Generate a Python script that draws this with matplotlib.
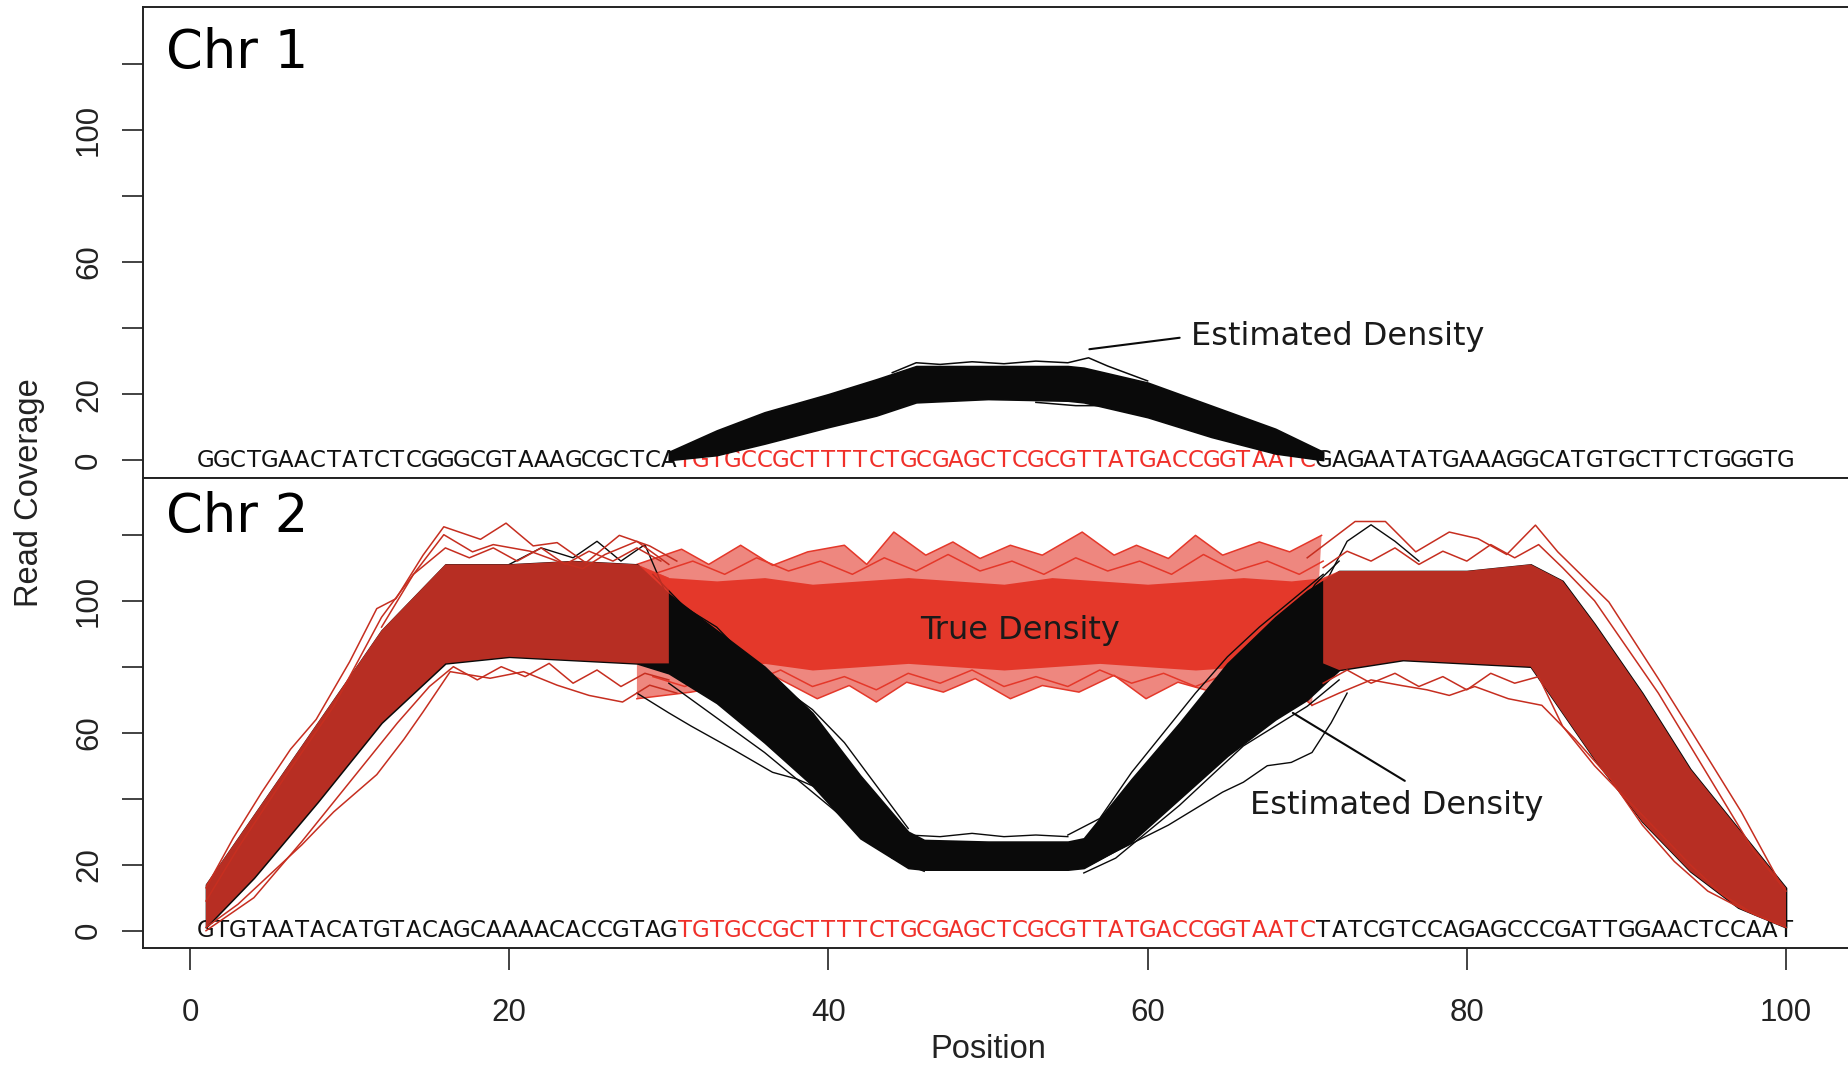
import matplotlib.pyplot as plt
import numpy as np

plt.rcParams['font.family'] = ['Liberation Sans', 'DejaVu Sans']

RED = '#e4382a'
DARK_RED = '#c62e20'
SEQ_RED = '#f0302a'
INK = '#0a0a0a'

# bases under the plots, one per position 1..100
repeat_seq = 'TGTGCCGCTTTTCTGCGAGCTCGCGTTATGACCGGTAATC'
chr1_left = 'GGCTGAACTATCTCGGGCGTAAAGCGCTCA'
chr1_right = 'GAGAATATGAAAGGCATGTGCTTCTGGGTG'
chr2_left = 'GTGTAATACATGTACAGCAAAACACCGTAG'
chr2_right = 'TATCGTCCAGAGCCCGATTGGAACTCCAAT'

# Chr 1: estimated density bundle (core band) and a few stray curves
est1_x = [30, 33, 36, 40, 43, 45.5, 50, 55, 56, 60, 64, 68, 71]
est1_lo = [0, 1.5, 5, 10, 13.5, 17.5, 18.5, 18, 17.5, 13, 7, 2, 0]
est1_hi = [2.5, 9, 14.5, 20, 24.5, 28.5, 28.5, 28.5, 28, 23.5, 16.5, 9.5, 2.5]
est1_top_x = [44, 45.5, 47, 49, 51, 53, 55, 56.3, 57.5, 60]
est1_top_y = [26.5, 29.5, 29, 29.8, 29.2, 30, 29.5, 31, 28.5, 24]
est1_low_x = [53, 55.5, 57, 59, 61, 63, 65]
est1_low_y = [17.5, 16.5, 16.5, 14.5, 12, 9.5, 6.5]

# Chr 2: estimated density (black) core band
est2_x = [1, 4, 8, 12, 16, 20, 24, 28, 30, 33, 36, 39, 42, 45, 46, 50, 55, 56,
          59, 62, 65, 68, 70, 72, 76, 80, 84, 86, 88, 91, 94, 97, 100]
est2_lo = [1, 16, 39, 63, 81, 83, 82, 81, 78, 69, 57, 44, 28, 19, 18.5, 18.5, 18.5, 19,
           27, 40, 53, 64, 70, 79, 82, 81, 80, 66, 52, 33, 18, 7, 1]
est2_hi = [14, 35, 63, 91, 111, 111, 112, 111, 102, 91, 80, 66, 47, 30, 27.5, 27, 27, 28,
           46, 63, 81, 95, 103, 109, 109, 109, 111, 106, 93, 72, 49, 31, 13]

# Chr 2: true density (red) core band
true2_x = [1, 4, 8, 12, 16, 20, 24, 28, 30, 33, 36, 39, 42, 45, 48, 51, 54, 57,
           60, 63, 66, 69, 71, 72, 76, 80, 84, 86, 88, 91, 94, 97, 100]
true2_lo = [1, 16, 39, 63, 81, 83, 82, 81, 81, 80, 81, 79, 80, 81, 80, 79, 80, 81,
            80, 79, 80, 81, 81, 79, 82, 81, 80, 66, 52, 33, 18, 7, 1]
true2_hi = [14, 35, 63, 91, 111, 111, 112, 111, 107, 106, 107, 105, 106, 107, 106, 105, 107, 106,
            105, 106, 107, 106, 107, 109, 109, 109, 111, 106, 93, 72, 49, 31, 13]

# outer edges of the true density across the repeat
mid_top_x = [28, 30.8, 32.5, 34.5, 36.5, 38.7, 41, 42.4, 44.1, 46.1, 47.8, 49.5,
             51.4, 53.4, 55.9, 57.9, 59.3, 61.3, 63, 64.7, 67, 68.9, 70.9]
mid_top_y = [111, 115.6, 111, 116.8, 110.7, 114.8, 116.8, 111, 120.8, 113.8, 117.8, 112.8,
             116.8, 113.8, 120.8, 113.8, 116.8, 112.8, 119.8, 113.8, 117.8, 114.8, 119.8]
mid_top2_x = [29, 31.5, 33.5, 35.5, 37.5, 39.5, 41.5, 43.5, 45.5, 47.5, 49.5, 51.5,
              53.5, 55.5, 57.5, 59.5, 61.5, 63.5, 65.5, 67.5, 69.5, 71]
mid_top2_y = [108, 112, 108, 113, 109, 112, 108, 113, 109, 114, 109, 112,
              108, 113, 109, 112, 108, 114, 109, 112, 108, 112]
mid_bot_x = [28, 31.4, 33.6, 36.5, 39.3, 41.3, 43, 44.9, 47.2, 49.2, 51.4, 53.4,
             55.7, 57.9, 59.9, 61.9, 64.1, 66.1, 68.1, 70.3]
mid_bot_y = [70.3, 72.3, 74.3, 77.4, 70.3, 74.3, 69.3, 75.3, 72.3, 76.4, 70.3, 74.3,
             72.3, 77.4, 70.3, 75.3, 72.3, 76.4, 77.4, 68.3]
mid_bot2_x = [29, 31, 33, 35, 37, 39, 41, 43, 45, 47, 49, 51, 53, 55, 57, 59, 61, 63, 65, 67, 69, 71]
mid_bot2_y = [77, 74, 78, 75, 79, 74, 77, 73, 78, 75, 79, 74, 77, 74, 79, 75, 78, 74, 78, 75, 79, 76]

# stray red curves on the flanks
red_curves = [
    ([1, 2.7, 4.5, 6.3, 7.9, 10, 11.7, 12.9, 14.6, 15.9, 18.2, 19.8, 21.5, 23, 24.8, 26.9, 28.8, 30.5],
     [13, 28, 42, 55, 64, 81.5, 97.6, 100.6, 113.8, 122.4, 118.6, 123.5, 116.6, 117.6, 111.5, 119.8, 116.6, 112]),
    ([12, 14, 15.9, 17.7, 19, 21.3, 23, 24.6, 26, 28, 30],
     [92, 108, 120, 114.8, 117, 115, 112, 109.7, 114, 118, 111]),
    ([1, 3, 5, 7, 9, 11.7, 13.4, 14.6, 16.3, 18.8, 20.9, 23, 25, 27.1, 28.8, 30.5],
     [1, 8, 17, 26, 36, 47.3, 58, 66.3, 78.5, 76.5, 78.5, 74.4, 71.3, 69.3, 74.4, 72]),
    ([1, 3, 6, 9, 12, 14, 16, 17.5, 19, 20.5, 22, 23.5, 25, 26.5, 28, 29.5],
     [9, 25, 47, 68, 95, 108, 116, 113, 116, 112, 116, 111, 115, 112, 116, 112]),
    ([1, 4, 7, 10, 13, 15, 16.5, 18, 19.5, 21, 22.5, 24, 25.5, 27, 28.5, 30],
     [0, 10, 27, 45, 63, 74, 80, 76, 80, 77, 81, 75, 79, 74, 78, 76]),
    ([70, 73, 74.9, 76.8, 78.9, 80.7, 82.5, 84.3, 85.7, 88.9, 92, 94.1, 97.2, 99.7],
     [113, 124, 124, 114.8, 120.8, 118.8, 114, 122.9, 114.8, 99.6, 76.4, 60.2, 36, 13.8]),
    ([70.3, 72, 74, 75.9, 77.5, 78.9, 80.5, 82.6, 84.7, 86.8, 89, 91, 93, 95.1, 97.5, 99.5],
     [68.3, 72, 76, 74.3, 73, 71.3, 74, 70.3, 68.3, 58, 46, 32, 21, 12, 6, 2]),
    ([71, 72.5, 74, 75.5, 77, 78.5, 80, 81.5, 83, 84.5, 86, 88, 90, 92, 94, 96, 98, 100],
     [110, 115, 112, 116, 111, 115, 112, 117, 113, 117, 110, 100, 86, 72, 56, 40, 24, 12]),
    ([71, 72.5, 74, 75.5, 77, 78.5, 80, 81.5, 83, 84.5, 86, 88, 90, 92, 94, 96, 98, 100],
     [75, 79, 75, 78, 74, 77, 73, 78, 75, 77, 62, 50, 40, 30, 20, 11, 5, 1]),
]

# stray black curves
black_curves = [
    ([28, 30, 31.4, 34, 36.5, 38, 39.9, 41.5, 42.7, 44.4, 46],
     [72, 66, 62, 55, 48, 46, 42, 35, 29, 24, 21]),
    ([56, 58, 61.3, 63, 64.7, 66, 67.5, 69, 70.3, 71.5, 72.5],
     [19, 24, 32, 37, 42, 45, 50, 51, 54, 63, 72]),
    ([60, 62, 64.2, 66.4, 68.5, 70.5, 72],
     [45, 55, 62, 75, 90, 105, 112]),
    ([20, 22, 24, 25.5, 27, 28.5, 30],
     [111, 116, 113, 118, 112, 117, 100]),
    ([71, 72.5, 74, 75.5, 77],
     [104, 118, 123, 118, 112]),
    ([29, 31, 33, 35, 37, 39, 41, 43, 45],
     [108, 98, 92, 82, 74, 67, 57, 44, 31]),
    ([30, 32, 34, 36, 38, 40, 42, 44, 46],
     [75, 68, 61, 54, 46, 38, 30, 22, 18]),
    ([55, 57, 59, 61, 63, 65, 67, 69, 71],
     [29, 34, 48, 60, 72, 83, 92, 100, 108]),
    ([56, 58, 60, 62, 64, 66, 68, 70, 72],
     [17.5, 22, 30, 38, 47, 56, 62, 68, 76]),
    ([45, 47, 49, 51, 53, 55],
     [29, 28.5, 29.5, 28.5, 29, 28.5]),
]


def draw_seq(ax, left, right):
    bases = left + repeat_seq + right
    for i, b in enumerate(bases):
        col = SEQ_RED if len(left) <= i < len(left) + len(repeat_seq) else '#111111'
        ax.text(i + 1, 0, b, color=col, ha='center', va='center',
                fontsize=16.5, family='DejaVu Sans', zorder=1)


fig = plt.figure(figsize=(18.48, 10.69), dpi=100)
ax1 = fig.add_axes([0.07727, 0.55323, 0.92338, 0.44022])
ax2 = fig.add_axes([0.07727, 0.11300, 0.92338, 0.44022])

for ax in (ax1, ax2):
    ax.set_xlim(-2.96, 103.96)
    ax.set_ylim(-5.3, 137.3)
    ax.set_yticks([0, 20, 40, 60, 80, 100, 120])
    ax.set_yticklabels(['0', '20', '', '60', '', '100', ''], rotation=90, va='center')
    ax.tick_params(axis='y', length=15, width=1.2, pad=13, labelsize=22.5, colors='#222222')
    for s in ax.spines.values():
        s.set_linewidth(1.4)
        s.set_color('#222222')

ax1.set_xticks([])
ax2.set_xticks([0, 20, 40, 60, 80, 100])
ax2.tick_params(axis='x', length=16, width=1.2, pad=20, labelsize=22.5, colors='#222222')

# ---- Chr 1
draw_seq(ax1, chr1_left, chr1_right)
ax1.fill_between(est1_x, est1_lo, est1_hi, color=INK, lw=1.2, edgecolor=INK, zorder=3)
ax1.plot(est1_top_x, est1_top_y, color=INK, lw=1.1, zorder=4)
ax1.plot(est1_low_x, est1_low_y, color=INK, lw=1.1, zorder=4)

ax1.text(-1.5, 118.9, 'Chr 1', fontsize=38, family='DejaVu Sans', ha='left', va='baseline')
ax1.annotate('Estimated Density', xy=(56.35, 33.6), xytext=(62.7, 37.5),
             fontsize=23, family='DejaVu Sans', color='#1a1a1a', ha='left', va='center',
             arrowprops=dict(arrowstyle='-', color=INK, lw=1.5, shrinkA=6, shrinkB=0,
                             relpos=(0, 0.5)))

# ---- Chr 2
draw_seq(ax2, chr2_left, chr2_right)

tx = np.array(true2_x)
mid = (tx >= 28) & (tx <= 72)
flank = (tx <= 30) | (tx >= 71)

# sparse outer region of the true density across the repeat
ax2.fill(mid_top_x + mid_bot_x[::-1], mid_top_y + mid_bot_y[::-1],
         color=RED, alpha=0.6, lw=0, zorder=2)
for xs, ys in [(mid_top_x, mid_top_y), (mid_top2_x, mid_top2_y),
               (mid_bot_x, mid_bot_y), (mid_bot2_x, mid_bot2_y)]:
    ax2.plot(xs, ys, color=RED, lw=1.1, zorder=2)
ax2.fill_between(true2_x, true2_lo, true2_hi, where=mid, color=RED, lw=0, zorder=2)

ax2.fill_between(est2_x, est2_lo, est2_hi, color=INK, lw=1.2, edgecolor=INK, zorder=3)
for xs, ys in black_curves:
    ax2.plot(xs, ys, color=INK, lw=1.0, zorder=3)

ax2.fill_between(true2_x, true2_lo, true2_hi, where=flank, color=RED, alpha=0.8,
                 lw=0, zorder=4)
for xs, ys in red_curves:
    ax2.plot(xs, ys, color=DARK_RED, lw=1.1, zorder=5)

ax2.text(-1.5, 120.7, 'Chr 2', fontsize=38, family='DejaVu Sans', ha='left', va='baseline')
ax2.text(52.0, 91.1, 'True Density', fontsize=23, family='DejaVu Sans', color='#1a1a1a',
         ha='center', va='center', zorder=6)
ax2.annotate('Estimated Density', xy=(69.1, 66), xytext=(75.6, 37.9),
             fontsize=23, family='DejaVu Sans', color='#1a1a1a', ha='center', va='center',
             arrowprops=dict(arrowstyle='-', color=INK, lw=1.5, shrinkA=9, shrinkB=0,
                             relpos=(0.58, 1.0)), zorder=6)

fig.text(29.5 / 1848, 1 - 493 / 1069, 'Read Coverage', rotation=90, ha='center', va='center',
         fontsize=23.5, color='#222222')
fig.text(988 / 1848, 1 - 1049 / 1069, 'Position', ha='center', va='center',
         fontsize=23.5, color='#222222')

fig.savefig('out.png', dpi=100)
